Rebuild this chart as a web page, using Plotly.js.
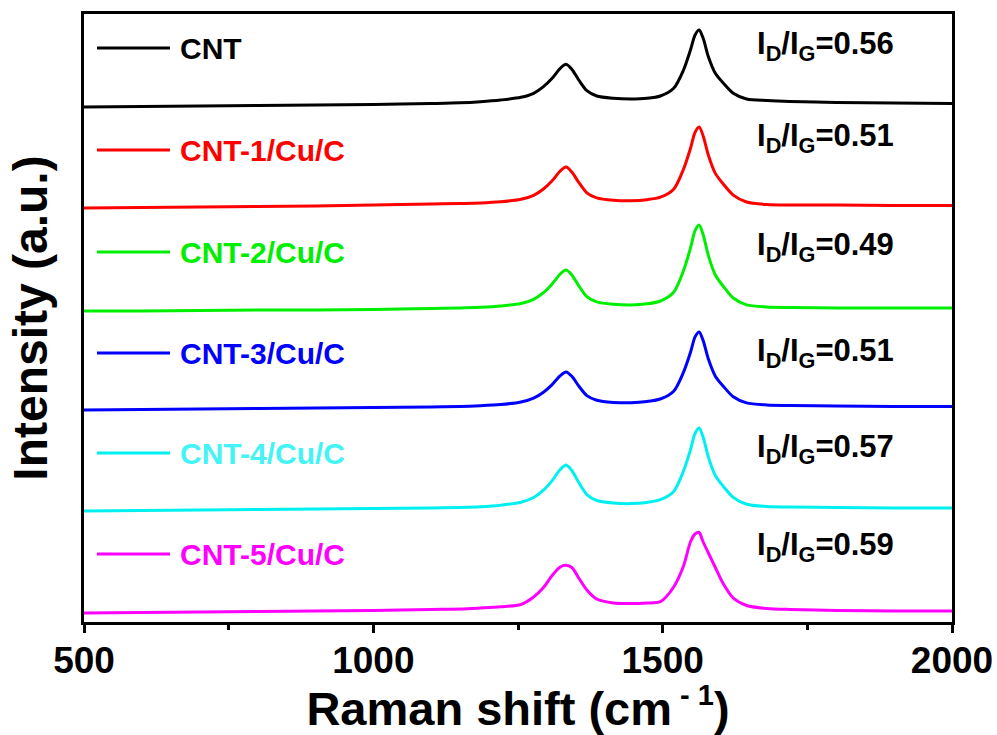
<!DOCTYPE html>
<html>
<head>
<meta charset="utf-8">
<script src="https://cdn.plot.ly/plotly-3.0.1.min.js"></script>
<style>html,body{margin:0;padding:0;background:#fff;}#chart{width:997px;height:735px;}</style>
</head>
<body>
<div id="chart"></div>
<script>
// Raman shift (cm-1)
const ramanShift = [500, 600, 700, 800, 900, 1000, 1100, 1150, 1185, 1220,
  1255, 1277, 1294, 1309, 1323, 1333, 1343, 1355, 1369, 1386,
  1415, 1445, 1473, 1496, 1519, 1536, 1548, 1556, 1563, 1570,
  1579, 1591, 1605, 1622, 1645, 1680, 1720, 1800, 1900, 2000];

// Stacked (offset) intensities, a.u.
const intCNT = [515, 515.5, 516, 516.5, 517, 517.5, 518.5, 519.2, 520.3, 522,
  524.7, 528.7, 535.3, 543.7, 553.7, 557.7, 552.7, 542, 531.3, 526,
  523.7, 523, 523.7, 526, 533.7, 552, 572, 587, 592, 583.7,
  565.3, 548.7, 538.7, 528.7, 523, 521.5, 520.5, 519.5, 519, 518.5];
const intCNT1 = [414, 414.5, 415, 415.5, 416, 417, 418, 418.5, 419, 420.2,
  422.7, 426.7, 433, 441.2, 451, 455, 450, 439.6, 429.2, 424.1,
  421.7, 421.2, 422.3, 424.8, 432.8, 452.8, 473.5, 489.8, 495, 486.1,
  466.7, 448.6, 437.8, 426.9, 420, 417.5, 417, 417, 416.5, 416.5];
const intCNT2 = [311, 311, 311.5, 312, 312, 312.5, 313.5, 314, 314.7, 316,
  318.5, 322.7, 329.3, 338, 348, 352, 347.1, 336.2, 325.3, 320.1,
  317.7, 317, 318.2, 321, 329.8, 351.4, 373.8, 391.4, 397, 387.3,
  366.4, 347, 335.5, 324, 317.1, 315, 314.5, 314, 314, 314];
const intCNT3 = [212, 212.5, 213, 213.5, 214, 214.5, 215, 215.5, 216.2, 217.4,
  220, 223.9, 229.8, 237.4, 246.3, 250, 245.7, 236, 226.4, 221.8,
  219.6, 219.2, 220.5, 223, 230.8, 249.8, 269.5, 285.1, 290, 281.4,
  262.9, 245.8, 235.6, 225.3, 219.1, 217, 216.5, 216, 215.5, 215.5];
const intCNT4 = [111, 111.5, 112, 112.5, 113, 113.5, 114, 114.5, 115.2, 116.8,
  119.8, 124.5, 131.8, 141.4, 152.5, 157, 151.5, 139.5, 127.4, 121.5,
  119, 118.4, 119.6, 122.3, 130.6, 151, 172.1, 188.7, 194, 184.7,
  164.9, 146.5, 135.5, 124.6, 117.7, 115.5, 115, 114.5, 114, 114];
const intCNT5 = [9, 9.5, 10, 10.5, 11, 11.5, 12.5, 13, 14, 15.2,
  17.5, 25, 34.5, 46.5, 55, 56.7, 54.5, 44, 32, 23,
  19, 18.5, 19, 20.3, 35, 56, 80, 88, 89.5, 80,
  69, 54.5, 38, 24, 16.5, 13.5, 12.5, 11.5, 11, 11];

const sampleNames = ['CNT', 'CNT-1/Cu/C', 'CNT-2/Cu/C', 'CNT-3/Cu/C', 'CNT-4/Cu/C', 'CNT-5/Cu/C'];
const ratioLabels = ['0.56', '0.51', '0.49', '0.51', '0.57', '0.59'];
const xTickVals = [500, 1000, 1500, 2000];
const xMinorTickVals = [750, 1250, 1750];

const series = [intCNT, intCNT1, intCNT2, intCNT3, intCNT4, intCNT5];
const colors = ['#000000', '#ff0000', '#00ee00', '#0000ff', '#00f0f0', '#ff00ff'];
const textColors = ['#000000', '#ff0000', '#00ee00', '#0000ff', '#44f4f4', '#ff00ff'];

// layout helpers (pixel -> paper)
const L = 84, T = 14, W = 868, H = 608;
const px = x => (x - L) / W;
const py = y => (T + H - y) / H;

const legendY = [48, 150, 252, 353, 453, 554];
const ratioY = [46, 138, 247, 353, 449, 547];
const FONT = 'Liberation Sans, Arial, sans-serif';

const traces = series.map((s, i) => ({
  x: ramanShift, y: s, type: 'scatter', mode: 'lines', name: sampleNames[i],
  line: {color: colors[i], width: 3, shape: 'spline', smoothing: 0.8},
  showlegend: false, hoverinfo: 'skip'
}));

const shapes = [];
const annotations = [];
sampleNames.forEach((n, i) => {
  shapes.push({type: 'line', xref: 'paper', yref: 'paper', x0: px(97), x1: px(170), y0: py(legendY[i]), y1: py(legendY[i]), line: {color: colors[i], width: 3}});
  annotations.push({xref: 'paper', yref: 'paper', x: px(178), y: py(legendY[i]), xanchor: 'left', yanchor: 'middle', showarrow: false,
    text: n, font: {family: FONT, size: 30, weight: 'bold', color: textColors[i]}});
  annotations.push({xref: 'paper', yref: 'paper', x: px(755), y: py(ratioY[i]), xanchor: 'left', yanchor: 'middle', showarrow: false,
    text: 'I<sub>D</sub>/I<sub>G</sub>=' + ratioLabels[i], font: {family: FONT, size: 31, weight: 'bold', color: '#000'}});
});

const layout = {
  width: 997, height: 735,
  margin: {l: L, r: 997 - L - W, t: T, b: 735 - T - H},
  paper_bgcolor: '#ffffff', plot_bgcolor: '#ffffff',
  showlegend: false,
  font: {family: FONT, color: '#000'},
  xaxis: {
    range: [500, 2000], tickvals: xTickVals, ticktext: xTickVals.map(String),
    ticks: 'outside', ticklen: 8, tickwidth: 3, tickcolor: '#000',
    ticklabelstandoff: -4,
    minor: {tickvals: xMinorTickVals, ticks: 'outside', ticklen: 5, tickwidth: 3, tickcolor: '#000'},
    showline: true, linewidth: 3, linecolor: '#000', mirror: true,
    showgrid: false, zeroline: false,
    tickfont: {size: 37, weight: 'bold', family: FONT},
    title: {text: 'Raman shift (cm<sup><span style="font-size:29px"> - 1</span></sup>)', font: {size: 47, weight: 'bold', family: FONT}, standoff: 10}
  },
  yaxis: {
    range: [0, 608], showticklabels: false, ticks: '',
    showline: true, linewidth: 3, linecolor: '#000', mirror: true,
    showgrid: false, zeroline: false,
    title: {text: 'Intensity (a.u.)', font: {size: 48, weight: 'bold', family: FONT}, standoff: 19}
  },
  shapes: shapes,
  annotations: annotations
};

Plotly.newPlot('chart', traces, layout, {staticPlot: true, displayModeBar: false});
</script>
</body>
</html>
